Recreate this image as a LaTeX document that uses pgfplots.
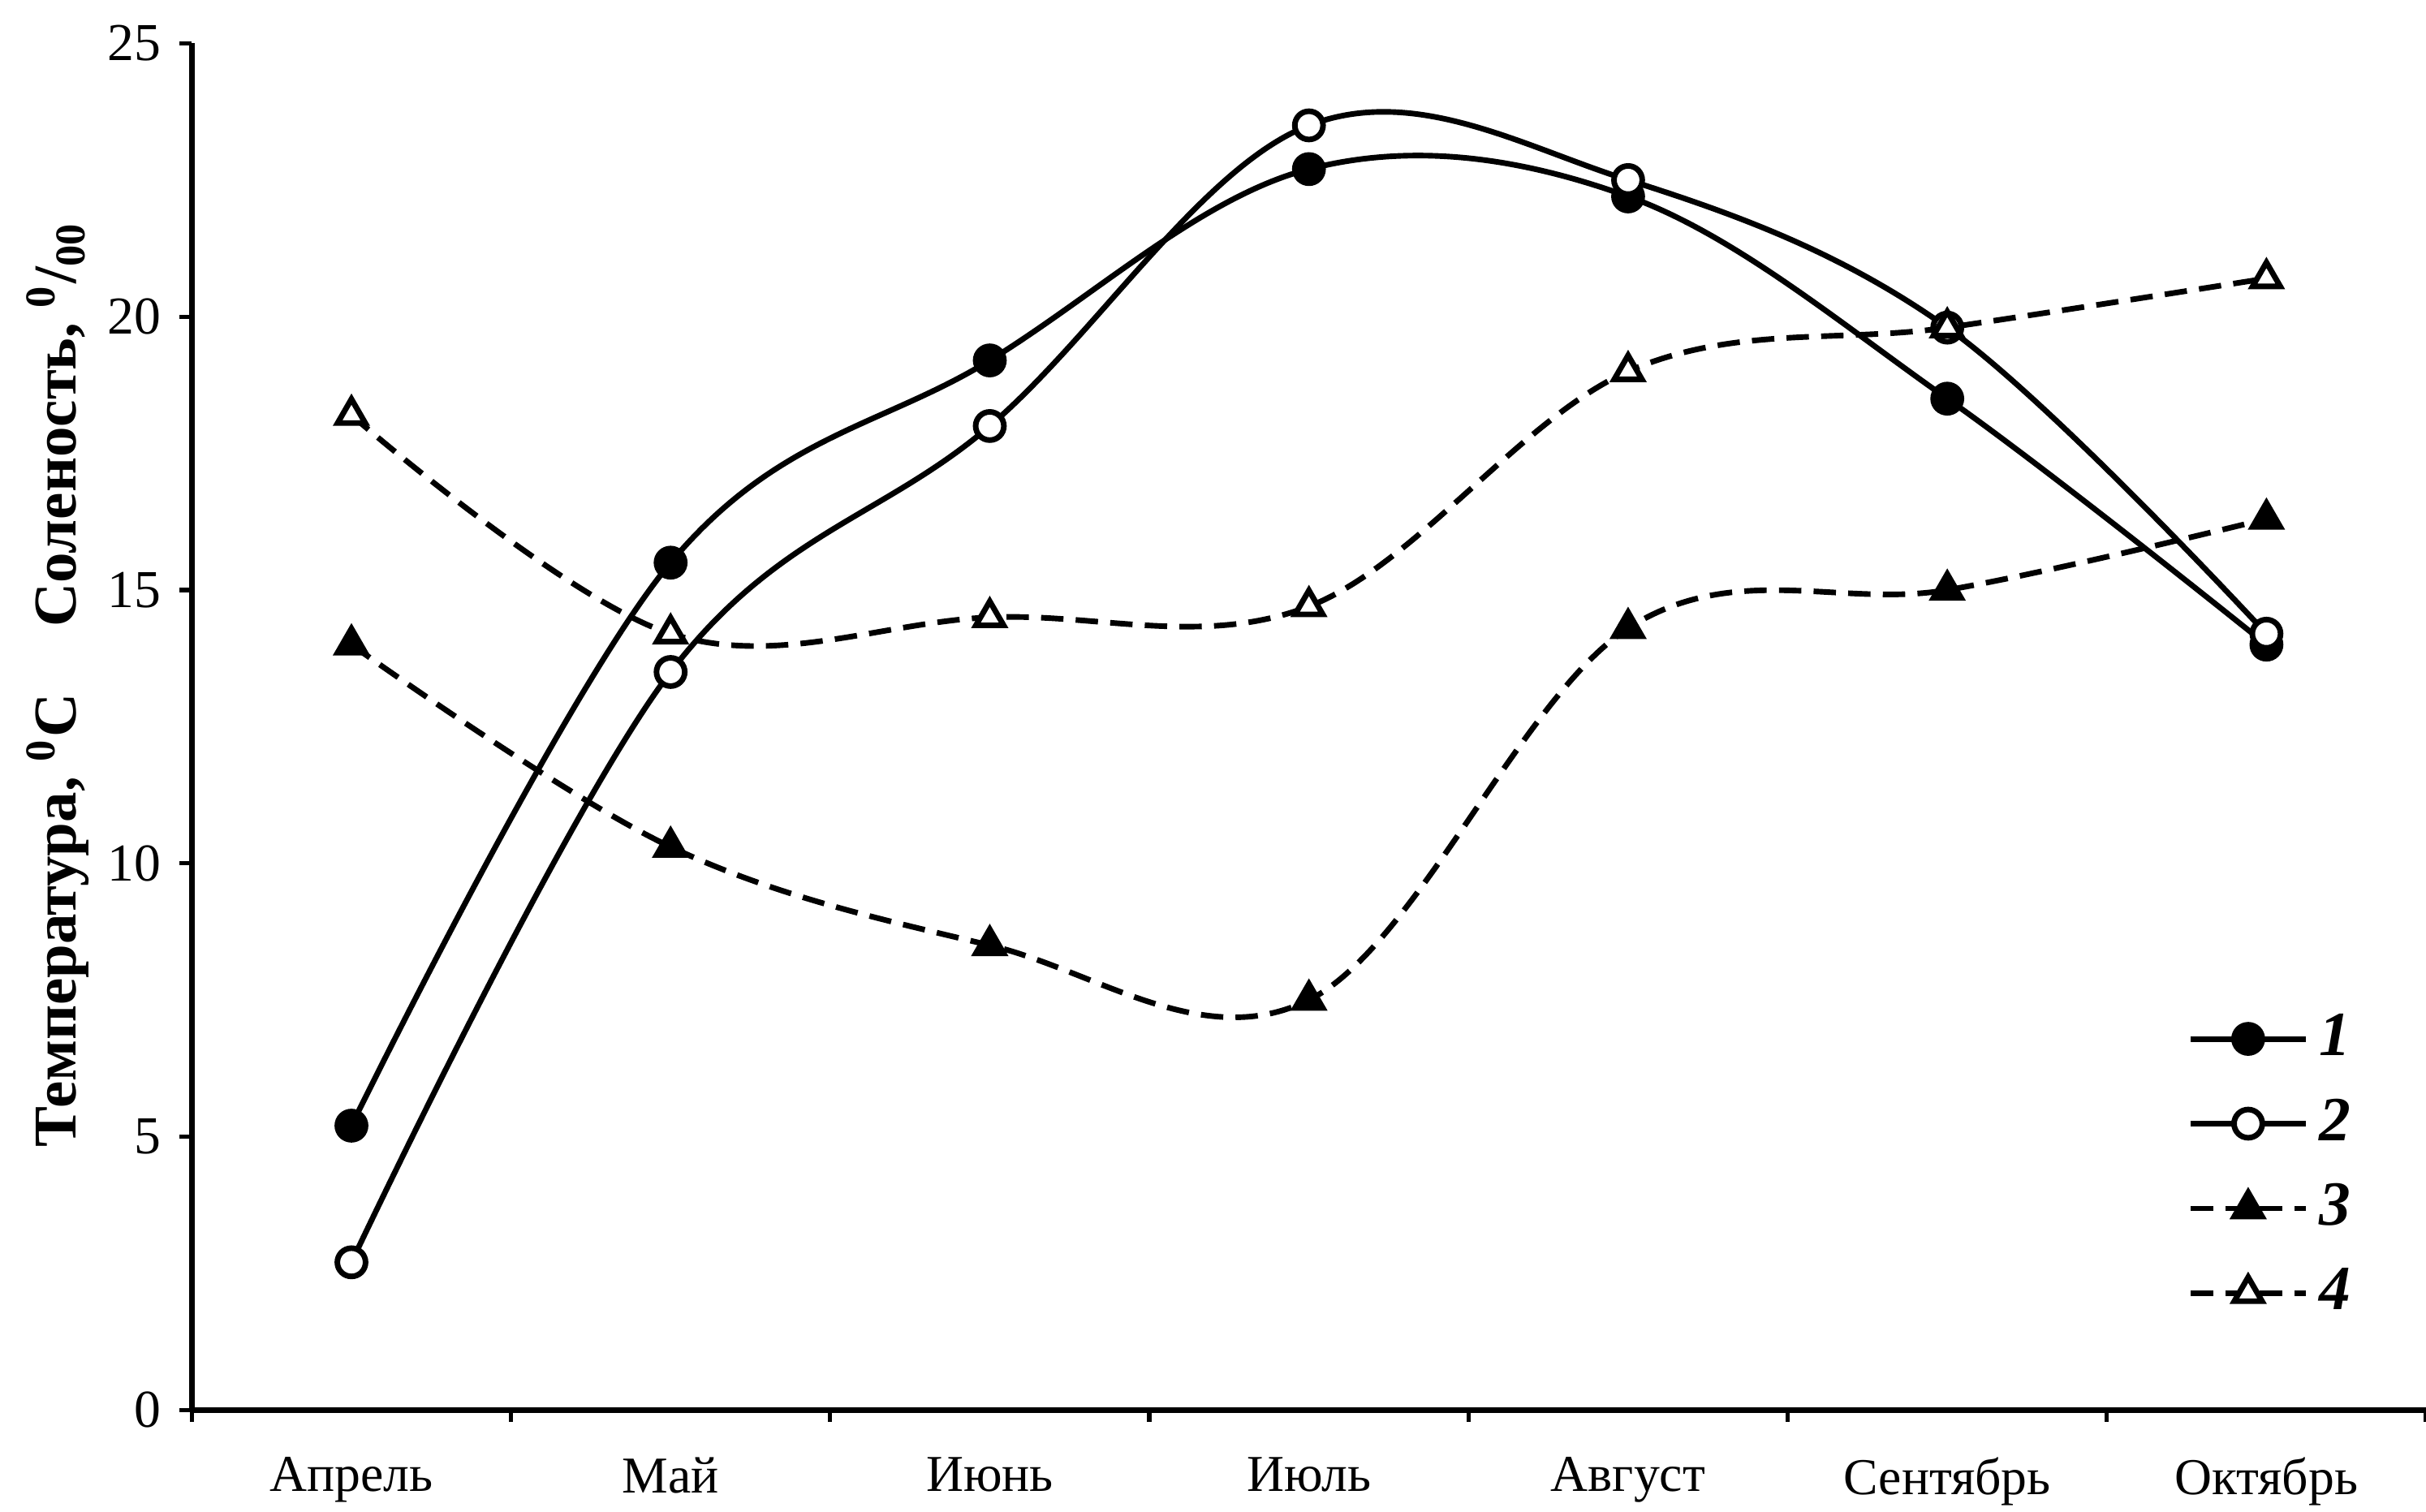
\documentclass[border=0pt]{standalone}
\usepackage{fontspec}
\setmainfont{Liberation Serif}
\usepackage{pgfplots}
\pgfplotsset{compat=1.18}

\begin{document}
\begin{tikzpicture}
\begin{axis}[
 name=ax,
 scale only axis,
 width=14.73cm, height=9.01cm,
 xmin=-0.5, xmax=6.5, ymin=0, ymax=25,
 axis x line*=bottom, axis y line*=left,
 axis line style={line width=1.1pt},
 xtick={0,...,6},
 xticklabels={Апрель,Май,Июнь,Июль,Август,Сентябрь,Октябрь},
 minor xtick={-0.5,0.5,...,6.5},
 ytick={0,5,...,25},
 tick align=outside,
 major tick length=0.08cm, minor tick length=0.08cm,
 xtick style={draw=none},
 minor x tick style={draw=black, line width=0.8pt},
 ytick style={draw=black, line width=0.8pt},
 tick label style={font=\fontsize{10}{12}\selectfont},
 xticklabel style={yshift=-0.11cm, font=\fontsize{9.7}{12}\selectfont},
 /pgf/number format/assume math mode=true,
 ylabel={\bfseries Температура, \textsuperscript{0}C\hspace{1.1em}Соленость, \textsuperscript{0}/\textsubscript{00}},
 ylabel style={font=\fontsize{11.4}{13}\selectfont, at={(axis description cs:-0.06,0.531)}, anchor=center},
 clip=false,
 every axis plot/.append style={line width=1.05pt, smooth, tension=0.6},
 legend style={draw=none, fill=none, font=\fontsize{11.8}{13}\selectfont\bfseries\itshape,
   at={(axis cs:5.70,7.65)}, anchor=north west, row sep=2.6pt},
 legend cell align=left,
 legend image code/.code={\draw[mark repeat=2, mark phase=2] plot coordinates {(0cm,0cm)(0.38cm,0cm)(0.76cm,0cm)};},
]
\addplot[black, mark=*, mark size=2.65pt, mark options={solid, fill=black}] coordinates {
 (0,5.2)(1,15.5)(2,19.2)(3,22.7)(4,22.2)(5,18.5)(6,14.0)};
\addlegendentry{1}
\addplot[black, mark=*, mark size=2.65pt, mark options={solid, fill=white}] coordinates {
 (0,2.7)(1,13.5)(2,18.0)(3,23.5)(4,22.5)(5,19.8)(6,14.2)};
\addlegendentry{2}
\addplot[black, dash pattern=on 4.2pt off 2.3pt, mark=triangle*, mark size=3pt, mark options={solid, fill=black}] coordinates {
 (0,14.0)(1,10.3)(2,8.5)(3,7.5)(4,14.3)(5,15.0)(6,16.3)};
\addlegendentry{3}
\addplot[black, dash pattern=on 4.2pt off 2.3pt, mark=triangle*, mark size=3pt, mark options={solid, fill=white}] coordinates {
 (0,18.2)(1,14.2)(2,14.5)(3,14.7)(4,19.0)(5,19.8)(6,20.7)};
\addlegendentry{4}
\end{axis}
\pgfresetboundingbox
\path ([xshift=-1.265cm,yshift=-0.673cm]ax.south west) rectangle ([yshift=0.286cm]ax.north east);
\end{tikzpicture}
\end{document}
